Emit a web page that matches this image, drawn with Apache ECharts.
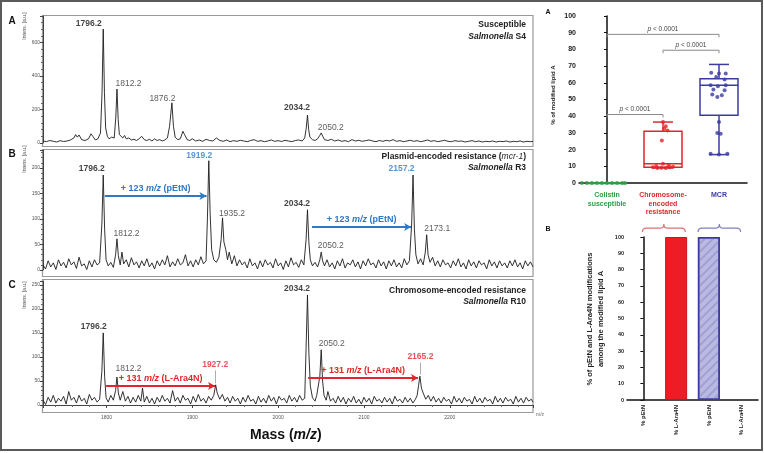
<!DOCTYPE html>
<html>
<head>
<meta charset="utf-8">
<script src="https://cdn.jsdelivr.net/npm/echarts@6/dist/echarts.min.js"></script>
<style>
  html, body { margin: 0; padding: 0; background: #fff; }
  #chart { width: 764px; height: 453px; }
</style>
</head>
<body>
<div id="chart"></div>
<script>
// ---- mass spectra (m/z, intensity in a.u.) ----
const massRange = [1726, 2297];

const spectrumA = [
  [1726,12],[1730,8],[1734,15],[1738,10],[1742,6],[1746,14],[1750,9],[1754,12],[1758,18],[1762,30],
  [1764,50],[1766,35],[1768,48],[1771,20],[1775,15],[1779,25],[1782,55],[1784,40],[1787,18],[1790,25],
  [1793,60],[1794.8,300],[1796.2,680],[1797.6,300],[1799,90],[1801,40],[1803,25],[1806,35],[1809,30],
  [1810.8,150],[1812.2,322],[1813.6,140],[1815,50],[1817,55],[1819,30],[1821,45],[1823,25],[1826,30],
  [1829,18],[1832,22],[1835,15],[1838,25],[1841,40],[1844,20],[1847,15],[1850,22],[1853,12],[1856,25],
  [1859,15],[1862,20],[1865,12],[1868,18],[1871,30],[1873.5,100],[1876.2,240],[1878,100],[1880,35],
  [1883,20],[1886,25],[1889,70],[1891,50],[1894,20],[1897,15],[1900,25],[1904,12],[1908,18],[1912,10],
  [1916,22],[1920,15],[1924,12],[1928,30],[1932,15],[1936,10],[1940,18],[1944,8],[1948,14],[1952,10],
  [1956,16],[1960,12],[1964,8],[1968,15],[1972,20],[1976,10],[1980,14],[1984,8],[1988,12],[1992,18],
  [1996,10],[2000,14],[2004,9],[2008,16],[2012,12],[2016,8],[2020,15],[2024,18],[2028,12],[2031,30],
  [2032.8,90],[2034.2,167],[2035.6,80],[2037,35],[2040,20],[2043,15],[2046,25],[2048.5,45],[2050.2,60],
  [2052,40],[2054,20],[2058,15],[2062,22],[2066,12],[2070,18],[2074,10],[2078,14],[2082,8],[2086,20],
  [2090,12],[2094,16],[2098,10],[2102,14],[2106,18],[2110,12],[2114,8],[2118,15],[2122,10],[2126,16],
  [2130,12],[2134,20],[2138,10],[2142,14],[2146,8],[2150,12],[2154,16],[2158,10],[2162,14],[2166,8],
  [2170,12],[2174,18],[2178,10],[2182,14],[2186,8],[2190,12],[2194,16],[2198,10],[2202,8],[2206,14],
  [2210,10],[2214,12],[2218,6],[2222,10],[2226,14],[2230,8],[2234,12],[2238,6],[2242,10],[2246,8],
  [2250,12],[2254,6],[2258,10],[2262,8],[2266,12],[2270,6],[2274,10],[2278,8],[2282,12],[2286,6],
  [2290,10],[2294,8],[2297,10]
];

const spectrumB = [
  [1726,10],[1729,2],[1732,18],[1735,6],[1738,14],[1741,1],[1744,20],[1747,8],[1750,15],[1753,4],
  [1756,22],[1759,10],[1762,16],[1765,3],[1768,25],[1771,8],[1774,12],[1777,1],[1780,18],[1783,6],
  [1786,20],[1789,10],[1792,14],[1794.6,90],[1796.2,186],[1797.8,80],[1799.5,20],[1802,8],[1805,15],
  [1808,5],[1810.6,30],[1812.2,61],[1813.8,28],[1816,10],[1818,35],[1820,12],[1823,20],[1826,6],
  [1829,24],[1832,10],[1835,16],[1838,4],[1841,18],[1844,8],[1847,22],[1850,6],[1853,14],[1856,2],
  [1859,18],[1862,8],[1865,20],[1868,10],[1871,28],[1874,6],[1877,16],[1880,8],[1883,22],[1886,10],
  [1889,14],[1892,30],[1895,8],[1898,18],[1901,6],[1904,20],[1907,10],[1910,26],[1913,12],[1916,18],
  [1917.6,100],[1919.2,214],[1920.8,110],[1922.5,40],[1925,20],[1928,15],[1931,25],[1933.6,60],
  [1935.2,102],[1936.8,55],[1939,40],[1941,20],[1943,35],[1946,12],[1949,28],[1952,8],[1955,20],
  [1958,10],[1961,16],[1964,4],[1967,22],[1970,8],[1973,14],[1976,2],[1979,18],[1982,6],[1985,20],
  [1988,10],[1991,15],[1994,4],[1997,22],[2000,8],[2003,14],[2006,1],[2009,18],[2012,6],[2015,24],
  [2018,10],[2021,15],[2024,5],[2027,20],[2030,10],[2032.6,60],[2034.2,118],[2035.8,55],[2037.5,20],
  [2040,8],[2043,15],[2046,6],[2048.6,20],[2050.2,35],[2051.8,18],[2054,8],[2057,20],[2060,6],
  [2063,14],[2066,2],[2069,18],[2072,8],[2075,22],[2078,4],[2081,14],[2084,10],[2087,20],[2090,6],
  [2093,16],[2096,2],[2099,18],[2102,8],[2105,22],[2108,10],[2111,14],[2114,4],[2117,20],[2120,8],
  [2123,16],[2126,2],[2129,18],[2132,8],[2135,20],[2138,6],[2141,14],[2144,4],[2147,22],[2150,10],
  [2153,18],[2155.6,90],[2157.2,186],[2158.8,80],[2160.5,30],[2163,12],[2166,22],[2169,10],
  [2171.5,35],[2173.1,69],[2174.7,30],[2177,15],[2180,25],[2183,8],[2186,18],[2189,6],[2192,20],
  [2195,10],[2198,14],[2201,4],[2204,18],[2207,8],[2210,22],[2213,6],[2216,14],[2219,2],[2222,20],
  [2225,8],[2228,16],[2231,4],[2234,18],[2237,10],[2240,14],[2243,2],[2246,20],[2249,8],[2252,16],
  [2255,4],[2258,18],[2261,8],[2264,14],[2267,4],[2270,18],[2273,8],[2276,20],[2279,6],[2282,14],
  [2285,2],[2288,18],[2291,8],[2294,16],[2297,6]
];

const spectrumC = [
  [1726,10],[1729,1],[1732,16],[1735,6],[1738,20],[1741,4],[1744,14],[1747,8],[1750,18],[1753,2],
  [1756,28],[1759,10],[1762,16],[1765,4],[1768,20],[1771,8],[1774,14],[1777,2],[1780,22],[1783,10],
  [1786,16],[1789,6],[1792,12],[1794.6,70],[1796.2,150],[1797.8,60],[1799.5,15],[1802,6],[1805,20],
  [1808,10],[1810.6,30],[1812.2,58],[1813.8,25],[1816,10],[1819,28],[1822,8],[1825,18],[1828,4],
  [1831,16],[1834,6],[1837,20],[1840,8],[1842,35],[1844,6],[1847,18],[1850,4],[1853,14],[1856,2],
  [1859,16],[1862,6],[1865,20],[1868,8],[1871,14],[1874,4],[1877,30],[1880,8],[1883,16],[1886,4],
  [1889,20],[1892,10],[1895,14],[1898,2],[1901,18],[1904,6],[1907,22],[1910,8],[1913,14],[1916,4],
  [1919,18],[1922,10],[1925,20],[1927.2,42],[1929,25],[1932,12],[1935,22],[1938,8],[1941,16],[1944,4],
  [1947,18],[1950,8],[1953,14],[1956,2],[1959,16],[1962,6],[1965,20],[1968,8],[1971,12],[1974,2],
  [1977,18],[1980,6],[1983,14],[1986,4],[1989,20],[1992,8],[1995,16],[1998,2],[2001,18],[2004,10],
  [2007,14],[2010,4],[2013,20],[2016,8],[2019,16],[2022,6],[2025,20],[2028,10],[2031,14],[2032.6,120],
  [2034.2,229],[2035.8,110],[2037.5,40],[2040,15],[2043,8],[2045,20],[2048.6,60],[2050.2,115],
  [2051.8,50],[2053.5,20],[2056,10],[2058,28],[2061,8],[2064,14],[2067,4],[2070,18],[2073,6],[2076,16],
  [2079,2],[2082,14],[2085,6],[2088,18],[2091,4],[2094,12],[2097,2],[2100,16],[2103,6],[2106,14],
  [2109,2],[2112,18],[2115,8],[2118,12],[2121,4],[2124,16],[2127,6],[2130,14],[2133,2],[2136,18],
  [2139,8],[2142,12],[2145,4],[2148,16],[2151,6],[2154,14],[2157,4],[2160,12],[2162,20],[2163.6,40],
  [2165.2,60],[2167,35],[2169,25],[2172,12],[2175,20],[2178,8],[2181,18],[2184,6],[2187,14],[2190,4],
  [2193,16],[2196,8],[2199,12],[2202,2],[2205,18],[2208,6],[2211,14],[2214,4],[2217,16],[2220,8],
  [2223,12],[2226,2],[2229,18],[2232,6],[2235,14],[2238,4],[2241,16],[2244,8],[2247,12],[2250,2],
  [2253,18],[2256,6],[2259,14],[2262,4],[2265,16],[2268,8],[2271,12],[2274,2],[2277,18],[2280,6],
  [2283,14],[2286,4],[2289,16],[2292,8],[2295,12],[2297,6]
];

// peak annotations [m/z, intensity, text]
const peaksA = [[1796.2,680,'1796.2'],[1812.2,322,'1812.2'],[1876.2,240,'1876.2'],[2034.2,167,'2034.2'],[2050.2,60,'2050.2']];
const peaksB = [[1796.2,186,'1796.2'],[1812.2,61,'1812.2'],[1919.2,214,'1919.2'],[1935.2,102,'1935.2'],
                [2034.2,118,'2034.2'],[2050.2,35,'2050.2'],[2157.2,186,'2157.2'],[2173.1,69,'2173.1']];
const peaksC = [[1796.2,150,'1796.2'],[1812.2,58,'1812.2'],[1927.2,42,'1927.2'],[2034.2,229,'2034.2'],
                [2050.2,115,'2050.2'],[2165.2,60,'2165.2']];

// mass shift arrows [from m/z, to m/z, intensity level, shift, group]
const shiftsB = [[1798,1916.5,145,'123','pEtN'],[2039.5,2155,84,'123','pEtN']];
const shiftsC = [[1799.5,1926.5,39.5,'131','L-Ara4N'],[2035,2163,56,'131','L-Ara4N']];
// leader lines under red labels [m/z, from, to]
const leadersC = [[1927.2,45,72],[2165.2,63,88]];

const yMaxA = 758, yMaxB = 235, yMaxC = 258;

// ---- panel A (right): % of modified lipid A ----
const groups = ['Colistin\nsusceptible', 'Chromosome-\nencoded\nresistance', 'MCR'];
// [group, min, q1, median, q3, max]
const boxStats = [[0,0,0,0,0,0],[1,9,9.5,11.5,31,36.5],[2,17,40.5,58.5,62.5,71]];
const ptsSusceptible = [[-0.45,0],[-0.36,0],[-0.27,0],[-0.18,0],[-0.09,0],[0,0],[0.09,0],[0.18,0],[0.27,0],[0.32,0]];
const ptsChromosome = [[1.0,36.5],[1.05,34],[1.02,32.5],[1.08,31.5],[0.98,25.5],[1.0,11.5],[0.82,9.5],[0.9,9],
                       [0.97,9.2],[1.05,9],[1.12,9.5],[1.18,9.8],[0.88,10.2],[1.1,10.5]];
const ptsMcr = [[1.86,66],[2.0,65.5],[2.12,65.5],[1.95,63.5],[2.1,62],[1.85,58.5],[1.98,58],[2.12,58.5],
                [1.9,56],[2.1,55.5],[1.88,53],[2.05,52.5],[1.97,51.5],[2.0,36.5],[1.97,30],[2.03,29.5],
                [1.85,17.5],[2.0,17],[2.15,17.5]];
// [from group, to group, level]
const brackets = [[0,2,89],[1,2,79.5],[0,1,41]];
const bracketText = [' < 0.0001',' < 0.0001',' < 0.0001'];

// ---- panel B (right): % of pEtN and L-Ara4N ----
const modCats = ['% pEtN','% L-Ara4N','% pEtN','% L-Ara4N'];
const modValues = [0, 100, 100, 0];
const braceSpans = [[-0.03,1.28],[1.67,2.97]];
const braceLevel = 105.5;

const BLACK = '#111', GREY = '#333', BLUE = '#2f78c4', RED = '#e0262b';
const boxColors = ['#2e9e44', '#e0262b', '#3b3ba3'];
const braceColors = ['#e07070', '#8080c8'];

// label layout for each peak: [align, dx, dy, colour, weight]
const labA = [['right',-1,-5,BLACK,'bold'],['left',-1,-5,GREY,'normal'],['right',4,-4,GREY,'normal'],
              ['right',3,-7,BLACK,'bold'],['left',-3,-5,GREY,'normal']];
const labB = [['right',2,-6,BLACK,'bold'],['left',-3,-5,GREY,'normal'],['right',4,-5,BLUE,'bold'],
              ['left',-3,-4,GREY,'normal'],['right',3,-6,BLACK,'bold'],['left',-3,-6,GREY,'normal'],
              ['right',2,-6,BLUE,'bold'],['left',-2,-6,GREY,'normal']];
const labC = [['right',4,-6,BLACK,'bold'],['left',-1,-8,GREY,'normal'],['center',0,-20,RED,'bold'],
              ['right',3,-6,BLACK,'bold'],['left',-2,-6,GREY,'normal'],['center',1,-19,RED,'bold']];

const FONT = 'Liberation Sans, Arial, sans-serif';
const chart = echarts.init(document.getElementById('chart'));

function specX(i, showAxis) {
  return {
    type: 'value', gridIndex: i, min: massRange[0], max: massRange[1], splitNumber: 5,
    offset: showAxis ? 7 : 0,
    axisLine: { show: showAxis, lineStyle: { color: '#444', width: 1 } },
    axisTick: { show: showAxis, length: 3, lineStyle: { color: '#444' } },
    minorTick: { show: showAxis, splitNumber: 5, length: 2, lineStyle: { color: '#666' } },
    axisLabel: { show: showAxis, fontSize: 5, color: '#555', margin: 3, fontFamily: FONT,
                 formatter: v => String(v), showMinLabel: false, showMaxLabel: false },
    splitLine: { show: false }
  };
}
function specY(i, max, step) {
  return {
    type: 'value', gridIndex: i, min: 0, max: max, interval: step,
    axisLine: { show: true, lineStyle: { color: '#444', width: 1 } },
    axisTick: { show: true, length: 3, lineStyle: { color: '#444' } },
    minorTick: { show: true, splitNumber: 5, length: 2, lineStyle: { color: '#666' } },
    axisLabel: { fontSize: 5, color: '#555', margin: 3, fontFamily: FONT, showMaxLabel: false },
    splitLine: { show: false }
  };
}
function specLine(data, i) {
  return {
    type: 'line', xAxisIndex: i, yAxisIndex: i, data: data, showSymbol: false, silent: true,
    lineStyle: { color: '#1c1c1c', width: 0.9 }, z: 3
  };
}
function peakLabels(peaks, lay, i) {
  return {
    type: 'scatter', xAxisIndex: i, yAxisIndex: i, symbolSize: 1, silent: true, z: 6,
    itemStyle: { color: 'rgba(0,0,0,0)' },
    data: peaks.map((p, k) => ({
      value: [p[0], p[1]],
      label: {
        show: true, formatter: p[2], position: [lay[k][1], lay[k][2]], align: lay[k][0],
        verticalAlign: 'middle', color: lay[k][3], fontWeight: lay[k][4], fontSize: 8.5, fontFamily: FONT
      }
    }))
  };
}
function shiftLines(shifts, colour) {
  return shifts.map(s => [
    { coord: [s[0], s[2]], symbol: 'none' },
    {
      coord: [s[1], s[2]], symbol: 'arrow', symbolSize: [6, 7],
      lineStyle: { color: colour, width: 1.8, type: 'solid' },
      label: {
        show: true, position: 'middle', distance: 3,
        formatter: '{n|+ ' + s[3] + ' }{i|m/z}{n| (' + s[4] + ')}',
        rich: {
          n: { color: colour, fontWeight: 'bold', fontSize: 9, fontFamily: FONT },
          i: { color: colour, fontWeight: 'bold', fontStyle: 'italic', fontSize: 9, fontFamily: FONT }
        }
      }
    }
  ]);
}

const lineB = specLine(spectrumB, 1);
lineB.markLine = { silent: true, animation: false, data: shiftLines(shiftsB, BLUE) };
const lineC = specLine(spectrumC, 2);
lineC.markLine = {
  silent: true, animation: false,
  data: shiftLines(shiftsC, RED).concat(leadersC.map(l => [
    { coord: [l[0], l[1]], symbol: 'none' },
    { coord: [l[0], l[2]], symbol: 'none', lineStyle: { color: '#999', width: 0.8, type: 'solid' }, label: { show: false } }
  ]))
};

const catLabelRich = {
  g: { color: boxColors[0], fontWeight: 'bold', fontSize: 7, lineHeight: 8.5, fontFamily: FONT, align: 'center' },
  r: { color: boxColors[1], fontWeight: 'bold', fontSize: 7, lineHeight: 8.5, fontFamily: FONT, align: 'center' },
  b: { color: boxColors[2], fontWeight: 'bold', fontSize: 7, lineHeight: 8.5, fontFamily: FONT, align: 'center' }
};

function txt(x, y, text, opt) {
  return Object.assign({ type: 'text', x: x, y: y, silent: true,
    style: Object.assign({ text: text, fontFamily: FONT, fill: '#111', fontSize: 9, fontWeight: 'bold' }, opt || {}) });
}
function rotTxt(x, y, text, opt) {
  const t = txt(x, y, text, Object.assign({ align: 'center', verticalAlign: 'middle' }, opt));
  t.rotation = Math.PI / 2;
  return t;
}
const titleRich = {
  b: { fontWeight: 'bold', fontSize: 8.5, fontFamily: FONT, fill: '#222', color: '#222' },
  i: { fontWeight: 'bold', fontStyle: 'italic', fontSize: 8.5, fontFamily: FONT, fill: '#222', color: '#222' },
  ii: { fontWeight: 'normal', fontStyle: 'italic', fontSize: 8.5, fontFamily: FONT, fill: '#222', color: '#222' }
};
function title(y, text) {
  return txt(526, y, text, { align: 'right', verticalAlign: 'middle', rich: titleRich });
}

chart.setOption({
  animation: false,
  backgroundColor: '#fff',
  grid: [
    { left: 43, top: 16, width: 490, height: 127 },
    { left: 43, top: 150, width: 490, height: 120 },
    { left: 43, top: 281, width: 490, height: 124 },
    { left: 579, top: 16, width: 168, height: 167 },
    { left: 627, top: 237, width: 131, height: 163 }
  ],
  xAxis: [
    specX(0, false), specX(1, false), specX(2, true),
    {
      type: 'category', gridIndex: 3, data: groups,
      axisLine: { lineStyle: { color: '#111', width: 1.5 } },
      axisTick: { alignWithLabel: true, length: 3, lineStyle: { color: '#111' } },
      axisLabel: {
        interval: 0, margin: 8,
        formatter: (v, i) => v.split('\n').map(s => '{' + ['g', 'r', 'b'][i] + '|' + s + '}').join('\n'),
        rich: catLabelRich
      }
    },
    { type: 'value', gridIndex: 3, min: -0.5, max: 2.5, show: false },
    {
      type: 'category', gridIndex: 4, data: modCats,
      axisLine: { lineStyle: { color: '#111', width: 1.5 } },
      axisTick: { alignWithLabel: true, length: 3, lineStyle: { color: '#111' } },
      axisLabel: { interval: 0, rotate: 90, fontSize: 6, fontWeight: 'bold', color: '#222', fontFamily: FONT, margin: 5 }
    },
    { type: 'value', gridIndex: 4, min: -0.5, max: 3.5, show: false }
  ],
  yAxis: [
    specY(0, yMaxA, 200), specY(1, yMaxB, 50), specY(2, yMaxC, 50),
    {
      type: 'value', gridIndex: 3, min: 0, max: 100, interval: 10,
      axisLine: { show: true, lineStyle: { color: '#111', width: 1.5 } },
      axisTick: { show: true, length: 3, lineStyle: { color: '#111' } },
      axisLabel: { fontSize: 7, fontWeight: 'bold', color: '#222', fontFamily: FONT, margin: 3 },
      splitLine: { show: false }
    },
    {
      type: 'value', gridIndex: 4, min: 0, max: 100, interval: 10,
      axisLine: { show: true, lineStyle: { color: '#111', width: 1.5 } },
      axisTick: { show: true, length: 3, lineStyle: { color: '#111' } },
      axisLabel: { fontSize: 5.5, fontWeight: 'bold', color: '#222', fontFamily: FONT, margin: 3 },
      splitLine: { show: false }
    }
  ],
  series: [
    specLine(spectrumA, 0), lineB, lineC,
    peakLabels(peaksA, labA, 0), peakLabels(peaksB, labB, 1), peakLabels(peaksC, labC, 2),
    {
      type: 'custom', xAxisIndex: 4, yAxisIndex: 3, data: boxStats, clip: false, silent: true, z: 3,
      renderItem: (params, api) => {
        const c = api.value(0), col = boxColors[params.dataIndex];
        const v = [1, 2, 3, 4, 5].map(k => api.coord([c, api.value(k)])[1]);
        const x = api.coord([c, 0])[0], hw = 19, cw = 10;
        const st = { stroke: col, lineWidth: 1.5, fill: null };
        return {
          type: 'group', children: [
            { type: 'rect', shape: { x: x - hw, y: v[3], width: 2 * hw, height: Math.max(v[1] - v[3], 0.5) }, style: Object.assign({}, st, { fill: 'rgba(255,255,255,0)' }) },
            { type: 'line', shape: { x1: x - hw, y1: v[2], x2: x + hw, y2: v[2] }, style: st },
            { type: 'line', shape: { x1: x, y1: v[3], x2: x, y2: v[4] }, style: st },
            { type: 'line', shape: { x1: x, y1: v[1], x2: x, y2: v[0] }, style: st },
            { type: 'line', shape: { x1: x - cw, y1: v[4], x2: x + cw, y2: v[4] }, style: st },
            { type: 'line', shape: { x1: x - cw, y1: v[0], x2: x + cw, y2: v[0] }, style: st }
          ]
        };
      }
    },
    { type: 'scatter', xAxisIndex: 4, yAxisIndex: 3, data: ptsSusceptible, symbolSize: 4, itemStyle: { color: boxColors[0] }, z: 5, silent: true },
    { type: 'scatter', xAxisIndex: 4, yAxisIndex: 3, data: ptsChromosome, symbolSize: 4, itemStyle: { color: boxColors[1] }, z: 5, silent: true },
    { type: 'scatter', xAxisIndex: 4, yAxisIndex: 3, data: ptsMcr, symbolSize: 4, itemStyle: { color: boxColors[2] }, z: 5, silent: true },
    {
      type: 'custom', xAxisIndex: 4, yAxisIndex: 3, data: brackets, clip: false, silent: true,
      renderItem: (params, api) => {
        const a = api.coord([api.value(0), api.value(2)]), b = api.coord([api.value(1), api.value(2)]);
        return {
          type: 'group', children: [
            { type: 'polyline', shape: { points: [[a[0], a[1] + 3], a, b, [b[0], b[1] + 3]] }, style: { stroke: '#8a8a8a', lineWidth: 1, fill: null } },
            {
              type: 'text', x: (a[0] + b[0]) / 2, y: a[1] - 5,
              style: {
                text: '{i|p}{n|' + bracketText[params.dataIndex] + '}', align: 'center', verticalAlign: 'middle',
                rich: {
                  i: { fontStyle: 'italic', fontSize: 6.5, fill: '#444', fontFamily: FONT },
                  n: { fontSize: 6.5, fill: '#444', fontFamily: FONT }
                }
              }
            }
          ]
        };
      }
    },
    {
      type: 'bar', xAxisIndex: 5, yAxisIndex: 4, barWidth: 22, silent: true,
      data: modValues.map((v, i) => ({
        value: v,
        itemStyle: i === 1 ? { color: '#ee1c25', borderColor: '#c8141c', borderWidth: 1 }
          : i === 2 ? {
            color: '#b9b9e2', borderColor: '#3b3ba3', borderWidth: 1.5,
            decal: { symbol: 'rect', symbolSize: 1, dashArrayX: [1, 0], dashArrayY: [2, 4], rotation: -Math.PI / 4, color: 'rgba(140,140,200,0.55)' }
          } : { color: '#fff' }
      }))
    },
    {
      type: 'custom', xAxisIndex: 6, yAxisIndex: 4, data: braceSpans, clip: false, silent: true,
      renderItem: (params, api) => {
        const a = api.coord([api.value(0), braceLevel]), b = api.coord([api.value(1), braceLevel]);
        const y = a[1], m = (a[0] + b[0]) / 2, r = 4;
        return {
          type: 'path',
          shape: {
            pathData: 'M' + a[0] + ',' + (y + r) + ' Q' + a[0] + ',' + y + ' ' + (a[0] + r) + ',' + y +
              ' L' + (m - 3) + ',' + y + ' Q' + m + ',' + y + ' ' + m + ',' + (y - 4) +
              ' Q' + m + ',' + y + ' ' + (m + 3) + ',' + y +
              ' L' + (b[0] - r) + ',' + y + ' Q' + b[0] + ',' + y + ' ' + b[0] + ',' + (y + r)
          },
          style: { stroke: braceColors[params.dataIndex], lineWidth: 1.2, fill: null }
        };
      }
    }
  ],
  graphic: [
    { type: 'rect', shape: { x: 1, y: 1, width: 761, height: 449 }, style: { stroke: '#5a5a5a', lineWidth: 2, fill: null }, silent: true, z: 10 },
    { type: 'rect', shape: { x: 42.5, y: 15.5, width: 490.5, height: 131 }, style: { stroke: '#999', lineWidth: 1.2, fill: null }, silent: true },
    { type: 'rect', shape: { x: 42.5, y: 149.5, width: 490.5, height: 127 }, style: { stroke: '#999', lineWidth: 1.2, fill: null }, silent: true },
    { type: 'rect', shape: { x: 42.5, y: 279.5, width: 490.5, height: 133 }, style: { stroke: '#999', lineWidth: 1.2, fill: null }, silent: true },
    txt(12, 21, 'A', { fontSize: 10, align: 'center', verticalAlign: 'middle' }),
    txt(12, 154, 'B', { fontSize: 10, align: 'center', verticalAlign: 'middle' }),
    txt(12, 285, 'C', { fontSize: 10, align: 'center', verticalAlign: 'middle' }),
    rotTxt(25, 26, 'Intens. [a.u.]', { fontSize: 5, fontWeight: 'normal', fill: '#555' }),
    rotTxt(25, 159, 'Intens. [a.u.]', { fontSize: 5, fontWeight: 'normal', fill: '#555' }),
    rotTxt(25, 295, 'Intens. [a.u.]', { fontSize: 5, fontWeight: 'normal', fill: '#555' }),
    title(25, '{b|Susceptible}'),
    title(36.5, '{i|Salmonella}{b| S4}'),
    title(157, '{b|Plasmid-encoded resistance (}{ii|mcr-1}{b|)}'),
    title(168, '{i|Salmonella}{b| R3}'),
    title(291, '{b|Chromosome-encoded resistance}'),
    title(302, '{i|Salmonella}{b| R10}'),
    txt(250, 435, '{n|Mass (}{i|m/z}{n|)}', {
      verticalAlign: 'middle',
      rich: {
        n: { fontSize: 14, fontWeight: 'bold', fontFamily: FONT, fill: '#111' },
        i: { fontSize: 14, fontWeight: 'bold', fontStyle: 'italic', fontFamily: FONT, fill: '#111' }
      }
    }),
    txt(536, 415, 'm/z', { fontSize: 5, fontWeight: 'normal', fill: '#666', verticalAlign: 'middle' }),
    txt(548, 12, 'A', { fontSize: 7, align: 'center', verticalAlign: 'middle' }),
    txt(548, 229, 'B', { fontSize: 7, align: 'center', verticalAlign: 'middle' }),
    rotTxt(553, 95, '% of modified lipid A', { fontSize: 6, fill: '#222' }),
    rotTxt(590, 319, '% of pEtN and L-Ara4N modifications', { fontSize: 7.5, fill: '#222' }),
    rotTxt(601, 319, 'among the modified lipid A', { fontSize: 7.5, fill: '#222' })
  ]
});
</script>
</body>
</html>
